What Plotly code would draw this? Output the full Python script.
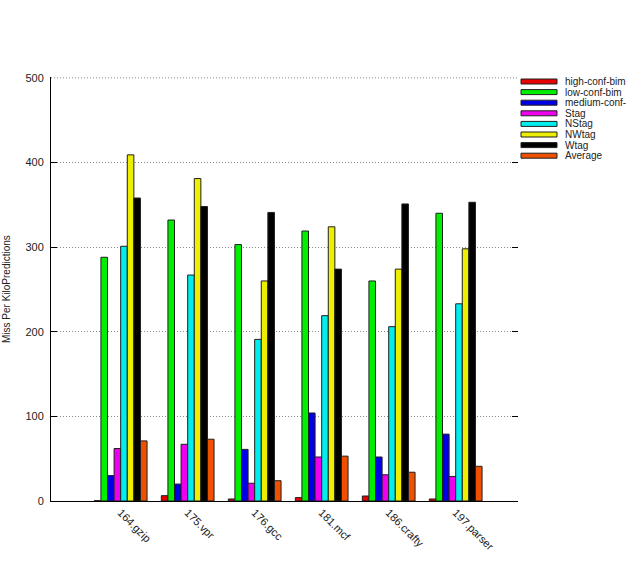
import plotly.graph_objects as go

categories = ["164.gzip", "175.vpr", "176.gcc", "181.mcf", "186.crafty", "197.parser"]
series_names = ["high-conf-bim", "low-conf-bim", "medium-conf-", "Stag", "NStag", "NWtag", "Wtag", "Average"]
high_conf_bim = [0.5, 6.3, 2.4, 4.0, 5.9, 2.4]
low_conf_bim = [288, 332, 303, 319, 260, 340]
medium_conf = [30, 20, 61, 104, 52, 79]
stag = [62, 67, 21, 52, 31, 29]
nstag = [301, 267, 191, 219, 206, 233]
nwtag = [409, 381, 260, 324, 274, 298]
wtag = [358, 348, 341, 274, 351, 353]
average = [71, 73, 24, 53, 34, 41]
series_values = [high_conf_bim, low_conf_bim, medium_conf, stag, nstag, nwtag, wtag, average]
colors = ["#e60000", "#00ee00", "#0000e6", "#ee00ee", "#00eeee", "#eeee00", "#000000", "#ee5000"]
y_ticks = [0, 100, 200, 300, 400, 500]

W, H = 631, 576
ML, MR, MT, MB = 51, 113, 77, 75
pw, ph = W - ML - MR, H - MT - MB

fig = go.Figure()
xpos = list(range(len(categories)))
for name, vals, col in zip(series_names, series_values, colors):
    fig.add_trace(go.Bar(x=xpos, y=vals, name=name, marker=dict(color=col, line=dict(color="#202020", width=1)),
                         showlegend=False))

# invisible trace for mirrored right ticks
fig.add_trace(go.Scatter(x=[0], y=[0], yaxis="y2", mode="markers", marker=dict(opacity=0), showlegend=False,
                         hoverinfo="skip"))

font = "Liberation Sans, Arial, sans-serif"
fig.update_layout(
    width=W, height=H,
    margin=dict(l=ML, r=MR, t=MT, b=MB, pad=0),
    paper_bgcolor="white", plot_bgcolor="white",
    barmode="group", bargap=0.213, bargroupgap=0,
    font=dict(family=font, size=11, color="#222222"),
    xaxis=dict(range=[-1.04, 5.93], tickmode="array", tickvals=xpos, ticktext=categories,
               tickangle=45, showgrid=False, zeroline=False, showline=True, linecolor="#000000",
               linewidth=1, ticks="", tickfont=dict(size=11, color="#222222")),
    yaxis=dict(range=[0, 501], tickmode="array", tickvals=y_ticks, showgrid=True, gridcolor="#888888",
               griddash="1px,2px", gridwidth=1, zeroline=False, showline=True, linecolor="#000000", linewidth=1,
               ticks="inside", ticklen=6, tickcolor="#000000", ticklabelstandoff=4,
               tickfont=dict(size=11, color="#222222")),
    yaxis2=dict(range=[0, 501], overlaying="y", side="right", tickmode="array", tickvals=y_ticks,
                showticklabels=False, showgrid=False, zeroline=False, showline=False,
                ticks="inside", ticklen=6, tickcolor="#000000"),
)

annotations = [dict(text="Miss Per KiloPredictions", xref="paper", yref="paper", x=0, y=0.5, xshift=-45,
                    textangle=-90, showarrow=False, font=dict(size=10, color="#222222"),
                    xanchor="center", yanchor="middle")]
shapes = [dict(type="line", xref="paper", yref="y", x0=0, x1=1, y0=y_ticks[-1], y1=y_ticks[-1],
               line=dict(color="#888888", width=1, dash="1px,2px"), layer="below")]
for i, (name, col) in enumerate(zip(series_names, colors)):
    yc = 81.5 + i * 10.6
    y0 = (H - MB - (yc + 2.5)) / ph
    y1 = (H - MB - (yc - 2.5)) / ph
    x0 = (521 - ML) / pw
    x1 = (557 - ML) / pw
    shapes.append(dict(type="rect", xref="paper", yref="paper", x0=x0, x1=x1, y0=y0, y1=y1,
                       fillcolor=col, line=dict(color="#202020", width=1)))
    annotations.append(dict(text=name, xref="paper", yref="paper", x=(564 - ML) / pw,
                            y=(H - MB - yc) / ph, xanchor="left", yanchor="middle", showarrow=False,
                            font=dict(size=10, color="#222222"), borderpad=0))
fig.update_layout(annotations=annotations, shapes=shapes)

fig.write_html("out.html")
